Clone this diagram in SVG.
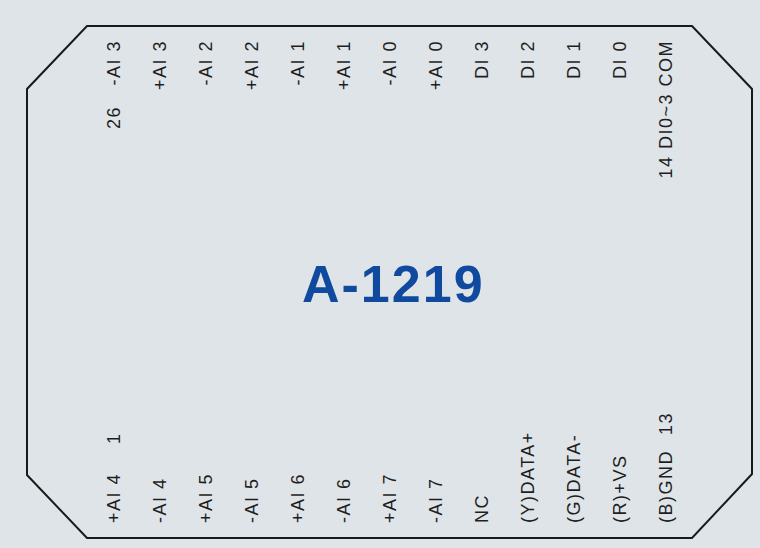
<svg xmlns="http://www.w3.org/2000/svg" width="760" height="548" viewBox="0 0 760 548">
  <style>
    .lbl { font-family: "Liberation Sans", Arial, sans-serif; font-size: 18px; fill: #1e1e1e; letter-spacing: 1.5px; }
    .top { text-anchor: end; }
    .bot { text-anchor: start; }
    .title { font-family: "Liberation Sans", Arial, sans-serif; font-size: 52px; font-weight: bold; fill: #0f4a9e; letter-spacing: 2px; }
  </style>
  <rect width="760" height="548" fill="#dfe4e8"/>
  <g id="body">
    <polygon points="87,26 692,26 752,89 752,474 692,538 87,538 27,475 27,89" fill="none" stroke="#1a1a1a" stroke-width="2"/>
  </g>
  <g id="title">
    <text class="title" x="302" y="302">A-1219</text>
  </g>
  <g id="top-pins">
    <text class="lbl top" transform="translate(120,40) rotate(-90)">-AI 3</text>
    <text class="lbl top" transform="translate(120,106) rotate(-90)">26</text>
    <text class="lbl top" transform="translate(166,40) rotate(-90)">+AI 3</text>
    <text class="lbl top" transform="translate(212,40) rotate(-90)">-AI 2</text>
    <text class="lbl top" transform="translate(258,40) rotate(-90)">+AI 2</text>
    <text class="lbl top" transform="translate(304,40) rotate(-90)">-AI 1</text>
    <text class="lbl top" transform="translate(350,40) rotate(-90)">+AI 1</text>
    <text class="lbl top" transform="translate(396,40) rotate(-90)">-AI 0</text>
    <text class="lbl top" transform="translate(442,40) rotate(-90)">+AI 0</text>
    <text class="lbl top" transform="translate(488,40) rotate(-90)">DI 3</text>
    <text class="lbl top" transform="translate(534,40) rotate(-90)">DI 2</text>
    <text class="lbl top" transform="translate(580,40) rotate(-90)">DI 1</text>
    <text class="lbl top" transform="translate(626,40) rotate(-90)">DI 0</text>
    <text class="lbl top" transform="translate(672,40) rotate(-90)">14 DI0~3 COM</text>
  </g>
  <g id="bottom-pins">
    <text class="lbl bot" transform="translate(120,523) rotate(-90)">+AI 4</text>
    <text class="lbl bot" transform="translate(120,444) rotate(-90)">1</text>
    <text class="lbl bot" transform="translate(166,523) rotate(-90)">-AI 4</text>
    <text class="lbl bot" transform="translate(212,523) rotate(-90)">+AI 5</text>
    <text class="lbl bot" transform="translate(258,523) rotate(-90)">-AI 5</text>
    <text class="lbl bot" transform="translate(304,523) rotate(-90)">+AI 6</text>
    <text class="lbl bot" transform="translate(350,523) rotate(-90)">-AI 6</text>
    <text class="lbl bot" transform="translate(396,523) rotate(-90)">+AI 7</text>
    <text class="lbl bot" transform="translate(442,523) rotate(-90)">-AI 7</text>
    <text class="lbl bot" transform="translate(488,523) rotate(-90)">NC</text>
    <text class="lbl bot" transform="translate(534,523) rotate(-90)">(Y)DATA+</text>
    <text class="lbl bot" transform="translate(580,523) rotate(-90)">(G)DATA-</text>
    <text class="lbl bot" transform="translate(626,523) rotate(-90)">(R)+VS</text>
    <text class="lbl bot" transform="translate(672,523) rotate(-90)">(B)GND</text>
    <text class="lbl bot" transform="translate(672,435) rotate(-90)">13</text>
  </g>
</svg>
